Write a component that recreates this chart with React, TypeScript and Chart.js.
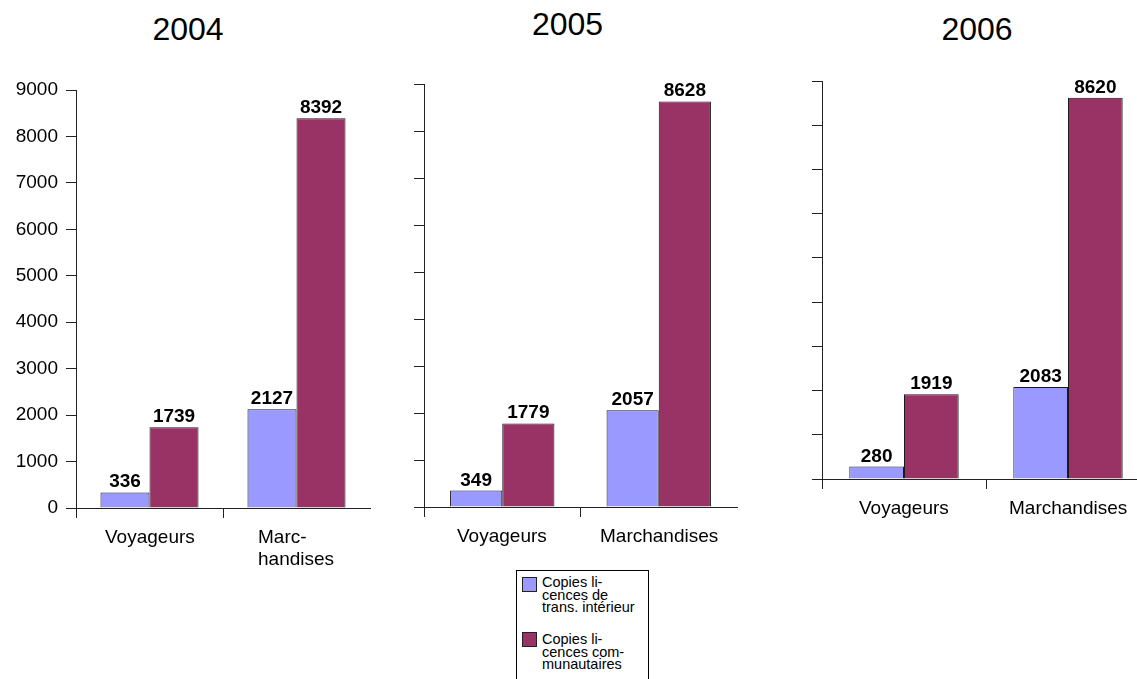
import { useEffect, useRef } from 'react';
import { Chart, registerables } from 'chart.js';

Chart.register(...registerables);

const years = ['2004', '2005', '2006'];
const categories2004 = ['Voyageurs', ['Marc-', 'handises']];
const categories = ['Voyageurs', 'Marchandises'];
const interieur2004 = [336, 2127];
const communautaires2004 = [1739, 8392];
const interieur2005 = [349, 2057];
const communautaires2005 = [1779, 8628];
const interieur2006 = [280, 2083];
const communautaires2006 = [1919, 8620];
const seriesLabels = ['Copies licences de trans. intérieur', 'Copies licences communautaires'];
const legendLines = [
  ['Copies li-', 'cences de', 'trans. intérieur'],
  ['Copies li-', 'cences com-', 'munautaires'],
];
const yMin = 0;
const yMax = 9000;
const yStep = 1000;

const COLORS = ['#9999FF', '#993366'];
const FONT = '"Liberation Sans", Arial, Helvetica, sans-serif';

const valueLabels = {
  id: 'valueLabels',
  afterDatasetsDraw(chart: any) {
    const ctx = chart.ctx;
    ctx.save();
    ctx.font = `bold 19px ${FONT}`;
    ctx.textAlign = 'center';
    ctx.textBaseline = 'alphabetic';
    ctx.fillStyle = '#000';
    chart.data.datasets.forEach((ds: any, i: number) => {
      chart.getDatasetMeta(i).data.forEach((bar: any, j: number) => {
        ctx.fillText(String(ds.data[j]), bar.x, bar.y - 5);
      });
    });
    ctx.restore();
  },
};

// Category labels: multi-line labels drawn as a centred block of left-aligned lines
const categoryLabels = {
  id: 'categoryLabels',
  afterDraw(chart: any) {
    const ctx = chart.ctx;
    const xs = chart.scales.x;
    ctx.save();
    ctx.font = `19px ${FONT}`;
    ctx.textAlign = 'left';
    ctx.textBaseline = 'alphabetic';
    ctx.fillStyle = '#000';
    const labels: any[] = chart.data.labels;
    for (let i = 0; i < labels.length; i++) {
      const lab = labels[i];
      const lines: string[] = Array.isArray(lab) ? lab : [String(lab)];
      let w = 0;
      for (const l of lines) w = Math.max(w, ctx.measureText(l).width);
      const cx = xs.getPixelForValue(i);
      const x0 = Math.round(cx - w / 2);
      for (let k = 0; k < lines.length; k++) {
        ctx.fillText(lines[k], x0, xs.top + 35 + k * 22);
      }
    }
    ctx.restore();
  },
};

type PanelProps = {
  labels: any[];
  a: number[];
  b: number[];
  left: number;
  top: number;
  width: number;
  height: number;
  yWidth: number;
  showY: boolean;
  padRight: number;
};

function Panel(p: PanelProps) {
  const ref = useRef<HTMLCanvasElement>(null);
  useEffect(() => {
    if (!ref.current) return;
    const chart = new Chart(ref.current, {
      type: 'bar',
      data: {
        labels: p.labels,
        datasets: [
          {
            label: seriesLabels[0],
            data: p.a,
            backgroundColor: COLORS[0],
            borderColor: '#1a1a1a',
            borderWidth: 1,
          },
          {
            label: seriesLabels[1],
            data: p.b,
            backgroundColor: COLORS[1],
            borderColor: '#1a1a1a',
            borderWidth: 1,
          },
        ],
      },
      options: {
        animation: false,
        responsive: false,
        maintainAspectRatio: false,
        layout: { padding: { top: 20, right: p.padRight, left: 0, bottom: 0 } },
        plugins: {
          legend: { display: false },
          tooltip: { enabled: false },
          title: { display: false },
        },
        datasets: { bar: { categoryPercentage: 0.667, barPercentage: 1 } },
        scales: {
          x: {
            grid: {
              offset: true,
              drawOnChartArea: false,
              drawTicks: true,
              tickLength: 10,
              color: (ctx: any) => (ctx.type === 'tick' ? '#222' : 'rgba(0,0,0,0)'),
            },
            border: { display: true, color: '#222', width: 1 },
            ticks: {
              display: false,
              autoSkip: false,
              maxRotation: 0,
            },
            afterFit: (s: any) => {
              s.height = 62;
            },
          },
          y: {
            min: yMin,
            max: yMax,
            grid: {
              drawOnChartArea: false,
              drawTicks: true,
              tickLength: 10,
              color: '#222',
            },
            border: { display: true, color: '#222', width: 1 },
            ticks: {
              stepSize: yStep,
              display: p.showY,
              color: '#000',
              font: { family: FONT, size: 19 },
              padding: 8,
              callback: (v: any) => String(v),
            },
            afterFit: (s: any) => {
              s.width = p.yWidth;
            },
          },
        },
      },
      plugins: [valueLabels, categoryLabels],
    });
    return () => chart.destroy();
  }, []);
  return (
    <canvas
      ref={ref}
      width={p.width}
      height={p.height}
      style={{ position: 'absolute', left: p.left, top: p.top, width: p.width, height: p.height }}
    />
  );
}

const titleStyle = (cx: number, top: number): any => ({
  position: 'absolute',
  left: cx - 60,
  width: 120,
  top,
  textAlign: 'center',
  fontSize: 32,
  lineHeight: '32px',
  fontFamily: FONT,
  color: '#000',
});

export default function App() {
  return (
    <div
      style={{
        position: 'fixed',
        left: 0,
        top: 0,
        width: 1137,
        height: 679,
        overflow: 'hidden',
        background: '#fff',
        fontFamily: FONT,
      }}
    >
      <div style={titleStyle(188, 12.8)}>{years[0]}</div>
      <div style={titleStyle(567.5, 8.3)}>{years[1]}</div>
      <div style={titleStyle(977, 12.8)}>{years[2]}</div>

      <Panel labels={categories2004} a={interieur2004} b={communautaires2004}
        left={0} top={70} width={380} height={500} yWidth={76} showY={true} padRight={10} />
      <Panel labels={categories} a={interieur2005} b={communautaires2005}
        left={344} top={64} width={403} height={505} yWidth={80} showY={false} padRight={10} />
      <Panel labels={categories} a={interieur2006} b={communautaires2006}
        left={742} top={61} width={408} height={480} yWidth={80} showY={false} padRight={0} />

      <div
        style={{
          position: 'absolute',
          left: 516,
          top: 570,
          width: 133,
          height: 130,
          boxSizing: 'border-box',
          border: '1px solid #000',
          background: '#fff',
        }}
      >
        {legendLines.map((lines, i) => (
          <div key={i}>
            <div
              style={{
                position: 'absolute',
                left: 5,
                top: i === 0 ? 6 : 61,
                width: 15,
                height: 15,
                boxSizing: 'border-box',
                border: '1px solid #222',
                background: COLORS[i],
              }}
            />
            <div
              style={{
                position: 'absolute',
                left: 25,
                top: i === 0 ? 5 : 62,
                fontSize: 14.5,
                lineHeight: '12.5px',
                color: '#000',
                whiteSpace: 'nowrap',
              }}
            >
              {lines.map((l, k) => (
                <div key={k}>{l}</div>
              ))}
            </div>
          </div>
        ))}
      </div>
    </div>
  );
}
